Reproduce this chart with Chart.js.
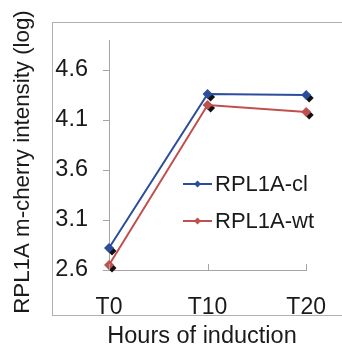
<!DOCTYPE html>
<html>
<head>
<meta charset="utf-8">
<script src="https://cdn.jsdelivr.net/npm/chart.js@4/dist/chart.umd.min.js"></script>
<style>
  html, body { margin:0; padding:0; background:#fff; }
  #wrap { width:342px; height:356px; }
</style>
</head>
<body>
<div id="wrap"><canvas id="rplChart" width="342" height="356"></canvas></div>
<script>
const HOURS = ['T0','T10','T20'];
const CL_VALUES = [2.82, 4.36, 4.35];
const WT_VALUES = [2.65, 4.25, 4.18];
const Y_TICKS = [2.6, 3.1, 3.6, 4.1, 4.6];

const FONT = '"Liberation Sans", Arial, sans-serif';
const axisC = '#a9a4a0';
const txt = '#1a1a1a';
const BLUE = '#2b4d9c';
const RED = '#c0504d';

// grey border round the whole plot, like the spreadsheet chart frame
const frame = {
  id:'frame',
  beforeDraw(chart) {
    const ctx = chart.ctx;
    ctx.save();
    ctx.strokeStyle = '#b5afaa'; ctx.lineWidth = 1;
    ctx.strokeRect(52.5, 22.5, 400, 293);
    ctx.restore();
  }
};

// black drop shadow diamonds under each marker
const markerShadow = {
  id:'markerShadow',
  beforeDatasetsDraw(chart) {
    const ctx = chart.ctx;
    ctx.save();
    ctx.fillStyle = '#111';
    chart.data.datasets.forEach((ds, i) => {
      chart.getDatasetMeta(i).data.forEach(p => {
        const r = 4.5, x = p.x + 3, y = p.y + 3;
        ctx.beginPath();
        ctx.moveTo(x, y - r); ctx.lineTo(x + r, y); ctx.lineTo(x, y + r); ctx.lineTo(x - r, y);
        ctx.closePath(); ctx.fill();
      });
    });
    ctx.restore();
  }
};

// x ticks point up into the plot
const innerTicks = {
  id:'innerTicks',
  afterDraw(chart) {
    const x = chart.scales.x, ctx = chart.ctx;
    ctx.save();
    ctx.strokeStyle = axisC; ctx.lineWidth = 1;
    x.ticks.forEach((t, i) => {
      const px = Math.round(x.getPixelForTick(i)) + 0.5;
      ctx.beginPath(); ctx.moveTo(px, x.top); ctx.lineTo(px, x.top - 6); ctx.stroke();
    });
    ctx.restore();
  }
};

// legend sitting inside the plot area, line + diamond style
const insideLegend = {
  id:'insideLegend',
  afterDraw(chart) {
    const ctx = chart.ctx;
    ctx.save();
    ctx.font = '22px ' + FONT;
    ctx.textBaseline = 'middle';
    chart.data.datasets.forEach((ds, i) => {
      const y = 184 + i * 37;
      ctx.strokeStyle = ds.borderColor; ctx.lineWidth = 2;
      ctx.beginPath(); ctx.moveTo(183, y); ctx.lineTo(212, y); ctx.stroke();
      ctx.fillStyle = ds.borderColor;
      const r = 3.5, cx = 197.5;
      ctx.beginPath();
      ctx.moveTo(cx, y - r); ctx.lineTo(cx + r, y); ctx.lineTo(cx, y + r); ctx.lineTo(cx - r, y);
      ctx.closePath(); ctx.fill();
      ctx.fillStyle = txt;
      ctx.fillText(ds.label, 215, y + 1);
    });
    ctx.restore();
  }
};

const axisTitles = {
  id:'axisTitles',
  afterDraw(chart) {
    const ctx = chart.ctx;
    ctx.save();
    ctx.fillStyle = txt;
    ctx.textAlign = 'center'; ctx.textBaseline = 'middle';
    ctx.font = '23.5px ' + FONT;
    ctx.fillText('Hours of induction', 202, 337);
    ctx.font = '22.3px ' + FONT;
    ctx.translate(23, 162); ctx.rotate(-Math.PI / 2);
    ctx.fillText('RPL1A m-cherry intensity (log)', 0, 0);
    ctx.restore();
  }
};

new Chart(document.getElementById('rplChart'), {
  type:'line',
  data:{ labels:HOURS, datasets:[
    { label:'RPL1A-cl', data:CL_VALUES, borderColor:BLUE, backgroundColor:BLUE, borderWidth:2,
      pointStyle:'rectRot', pointRadius:5, pointBackgroundColor:BLUE, pointBorderWidth:0, tension:0 },
    { label:'RPL1A-wt', data:WT_VALUES, borderColor:RED, backgroundColor:RED, borderWidth:2,
      pointStyle:'rectRot', pointRadius:5, pointBackgroundColor:RED, pointBorderWidth:0, tension:0 }
  ]},
  options:{ responsive:false, animation:false, devicePixelRatio:1,
    layout:{ padding:{ top:40, right:31, left:0, bottom:0 } },
    plugins:{ legend:{display:false}, tooltip:{enabled:false} },
    scales:{
      x:{ offset:false, grid:{display:false}, border:{display:true, color:axisC, width:1},
          ticks:{ color:txt, padding:16, maxRotation:0, font:{family:FONT, size:23} },
          afterFit:s => { s.height = 86; } },
      y:{ min:2.6, max:4.9,
          afterBuildTicks:s => { s.ticks = Y_TICKS.map(v => ({value:v})); },
          grid:{ drawOnChartArea:false, drawTicks:true, tickLength:6, color:axisC },
          border:{ display:true, color:axisC, width:1 },
          ticks:{ color:txt, padding:15, font:{family:FONT, size:23.5}, callback:v => v.toFixed(1) },
          afterFit:s => { s.width = 109; } }
    }
  },
  plugins:[frame, markerShadow, innerTicks, insideLegend, axisTitles]
});
</script>
</body>
</html>
